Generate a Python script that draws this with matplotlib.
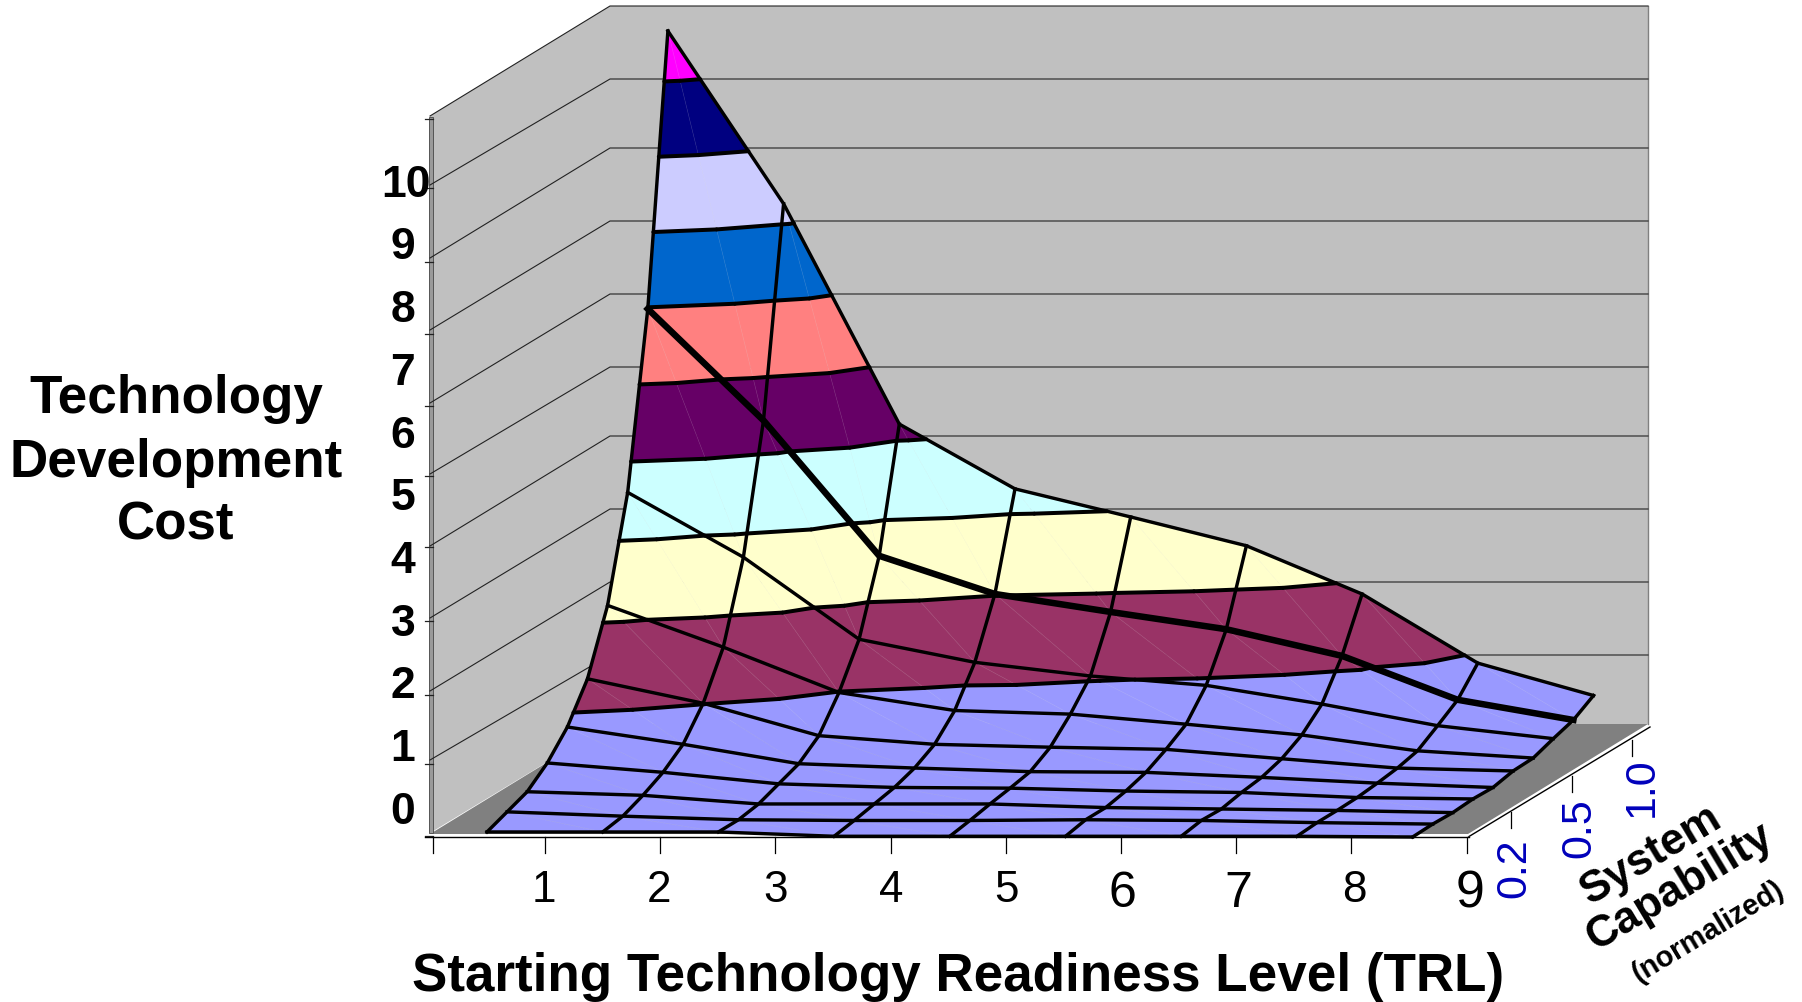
import matplotlib
matplotlib.use("Agg")
import matplotlib.pyplot as plt
from matplotlib.collections import LineCollection, PolyCollection
from matplotlib.patches import Polygon, Rectangle

plt.rcParams['font.family'] = ['Liberation Sans', 'DejaVu Sans']

# -----------------------
# Data (cost per capability step, front row to back row)
# -----------------------
trl_labels = ["1", "2", "3", "4", "5", "6", "7", "8", "9"]
cost_labels = ["0", "1", "2", "3", "4", "5", "6", "7", "8", "9", "10"]
capability_labels = ["0.2", "0.5", "1.0"]
capability_rows = [2, 5, 8]

cost_trl1 = [0.07, 0.18, 0.29, 0.52, 0.85, 1.35, 2.20, 3.60, 5.98, 9.67]
cost_trl2 = [0.07, 0.12, 0.24, 0.39, 0.61, 1.01, 1.62, 2.70, 4.43, 7.27]
cost_trl3 = [0.07, 0.07, 0.12, 0.23, 0.34, 0.56, 0.99, 1.56, 2.55, 4.21]
cost_trl4 = [0.01, 0.06, 0.12, 0.18, 0.28, 0.44, 0.74, 1.24, 2.02, 3.31]
cost_trl5 = [0.01, 0.06, 0.12, 0.17, 0.23, 0.40, 0.69, 1.05, 1.77, 2.92]
cost_trl6 = [0.01, 0.07, 0.07, 0.13, 0.22, 0.37, 0.55, 0.92, 1.53, 2.52]
cost_trl7 = [0.01, 0.06, 0.05, 0.11, 0.15, 0.24, 0.40, 0.66, 1.16, 1.85]
cost_trl8 = [0.01, 0.03, 0.03, 0.04, 0.07, 0.11, 0.18, 0.36, 0.55, 0.89]
cost_trl9 = [0.00, 0.01, 0.00, 0.02, 0.01, 0.07, 0.08, 0.18, 0.27, 0.44]
columns = [cost_trl1, cost_trl2, cost_trl3, cost_trl4, cost_trl5,
           cost_trl6, cost_trl7, cost_trl8, cost_trl9]

band_colors = ["#9999FF", "#993366", "#FFFFCC", "#CCFFFF", "#660066",
               "#FF8080", "#0066CC", "#CCCCFF", "#000080", "#FF00FF"]

N_COLS = len(columns)
N_ROWS = len(cost_trl1)
PT = 0.72  # pixels to points at dpi 100


# -----------------------
# Oblique projection of the 3D chart box
# -----------------------
def project(c, r, z):
    return 487 + 115.7 * c + 20.1 * r, 838 - 12.2 * r - 72.0 * z


def clip_band(verts, lo, hi):
    # clip a (c, r, z) polygon to lo <= z <= hi
    for level, keep_above in ((lo, True), (hi, False)):
        out = []
        for i, a in enumerate(verts):
            b = verts[(i + 1) % len(verts)]
            a_in = a[2] >= level if keep_above else a[2] <= level
            b_in = b[2] >= level if keep_above else b[2] <= level
            if a_in:
                out.append(a)
            if a_in != b_in:
                t = (level - a[2]) / (b[2] - a[2])
                out.append((a[0] + t * (b[0] - a[0]), a[1] + t * (b[1] - a[1]), level))
        verts = out
        if not verts:
            break
    return verts


def contour_segment(tri, level):
    pts = []
    for i, a in enumerate(tri):
        b = tri[(i + 1) % 3]
        if (a[2] - level) * (b[2] - level) < 0:
            t = (level - a[2]) / (b[2] - a[2])
            pts.append(project(a[0] + t * (b[0] - a[0]), a[1] + t * (b[1] - a[1]), level))
    return pts if len(pts) == 2 else None


# -----------------------
# Figure
# -----------------------
fig = plt.figure(figsize=(18.02, 10.03), dpi=100, facecolor="white")
ax = fig.add_axes([0, 0, 1, 1])
ax.set_xlim(0, 1802)
ax.set_ylim(1003, 0)
ax.axis("off")

# walls and floor
wall = "#C0C0C0"
ax.add_patch(Polygon([(610, 7), (1648, 7), (1648, 725), (610, 725)], fc=wall, ec="none"))
ax.plot([1648, 1648], [7, 725], color="#808080", lw=1.0, zorder=1.5)
ax.add_patch(Polygon([(430, 834), (430, 117), (610, 7), (610, 725)], fc=wall, ec="none"))
ax.add_patch(Polygon([(430, 835), (610, 725), (1648, 725), (1468, 835)], fc="#808080", ec="none"))
ax.add_patch(Rectangle((429, 118), 4, 716, fc="#9A9A9A", ec="#555555", lw=0.7))

back_y = [725, 656, 583, 510, 437, 368, 295, 222, 149, 80, 7]
front_y = [834, 761, 692, 619, 547, 475, 404, 331, 259, 186, 117]
tick_y = [837, 765, 696, 622, 548, 477, 407, 335, 263, 189, 120]
for yf, yb in zip(front_y[1:], back_y[1:]):
    ax.plot([430, 610, 1648], [yf, yb, yb], color="#222222", lw=0.8, zorder=1.5)
for yt in tick_y:
    ax.plot([425, 433], [yt, yt], color="#222222", lw=0.9, zorder=1.5)

# bottom axis and side axis
ax.plot([425, 1469], [838, 838], color="black", lw=1.0)
tick_x = [433] + [545 + 115.2 * i for i in range(N_COLS)]
for tx in tick_x:
    ax.plot([tx, tx], [838, 854], color="black", lw=0.9)
ax.plot([1469, 1650], [837.5, 728], color="black", lw=1.0)
for r in capability_rows:
    sx = 1469 + 20.1 * r + 2
    sy = 837.5 - 12.1 * r
    ax.plot([sx, sx], [sy, sy + 16], color="black", lw=0.9)

# -----------------------
# Surface
# -----------------------
polys, colors, seams, contours = [], [], [], []
for r in range(N_ROWS - 2, -1, -1):
    for c in range(N_COLS - 1):
        a = (c, r, columns[c][r])
        b = (c + 1, r, columns[c + 1][r])
        d = (c, r + 1, columns[c][r + 1])
        e = (c + 1, r + 1, columns[c + 1][r + 1])
        seams.append([project(*d), project(*b)])
        for tri in ([a, b, d], [b, e, d]):
            for lev, col in enumerate(band_colors):
                piece = clip_band(tri, lev, lev + 1)
                if len(piece) >= 3:
                    polys.append([project(*p) for p in piece])
                    colors.append(col)
            for lev in range(1, len(band_colors)):
                seg = contour_segment(tri, lev)
                if seg:
                    contours.append(seg)

ax.add_collection(PolyCollection(polys, facecolors=colors, edgecolors=colors, linewidths=0.3, zorder=3))
ax.add_collection(LineCollection(seams, colors="white", linewidths=0.5, alpha=0.12, zorder=3.1))
ax.add_collection(LineCollection(contours, colors="black", linewidths=4.0 * PT, capstyle="round", zorder=3.5))

for r in range(N_ROWS):
    xs, ys = zip(*[project(c, r, columns[c][r]) for c in range(N_COLS)])
    lw = 6.5 if r == N_ROWS - 2 else 3.4
    ax.plot(xs, ys, color="black", lw=lw * PT, solid_joinstyle="miter", zorder=4)
for c in range(N_COLS):
    xs, ys = zip(*[project(c, r, columns[c][r]) for r in range(N_ROWS)])
    ax.plot(xs, ys, color="black", lw=3.4 * PT, solid_joinstyle="miter", zorder=4)

# -----------------------
# Text
# -----------------------
for i, lab in enumerate(cost_labels):
    ax.text(406 if lab == "10" else 403, 812.5 - 62.75 * i, lab, fontsize=44.5 * PT, fontweight="bold",
            ha="center", va="center")

tick_sizes = [44, 44, 44, 44, 44, 50, 50, 44, 52]
for i, lab in enumerate(trl_labels):
    ax.text(543.5 + 115.8 * i, 894 if tick_sizes[i] > 44 else 891, lab, fontsize=tick_sizes[i] * PT,
            ha="center", va="center")

label_x = [1514, 1579, 1642]
label_y = [868, 828, 787]
for lab, lx, ly in zip(capability_labels, label_x, label_y):
    ax.text(lx, ly, lab, fontsize=43 * PT, color="#0000BB", rotation=90, ha="center", va="center")

for lab, ly in zip(["Technology", "Development", "Cost"], [399, 463, 526]):
    ax.text(176, ly, lab, fontsize=53 * PT, fontweight="bold", ha="center", va="center")

ax.text(958, 977, "Starting Technology Readiness Level (TRL)", fontsize=53 * PT, fontweight="bold",
        ha="center", va="center")
ax.text(1651, 855, "System", fontsize=44 * PT, fontweight="bold", rotation=31, ha="center", va="center",
        rotation_mode="anchor")
ax.text(1680, 887, "Capability", fontsize=44 * PT, fontweight="bold", rotation=31, ha="center", va="center",
        rotation_mode="anchor")
ax.text(1708, 932, "(normalized)", fontsize=29 * PT, fontweight="bold", rotation=31, ha="center", va="center",
        rotation_mode="anchor")

fig.savefig("out.png", dpi=100, facecolor="white")
